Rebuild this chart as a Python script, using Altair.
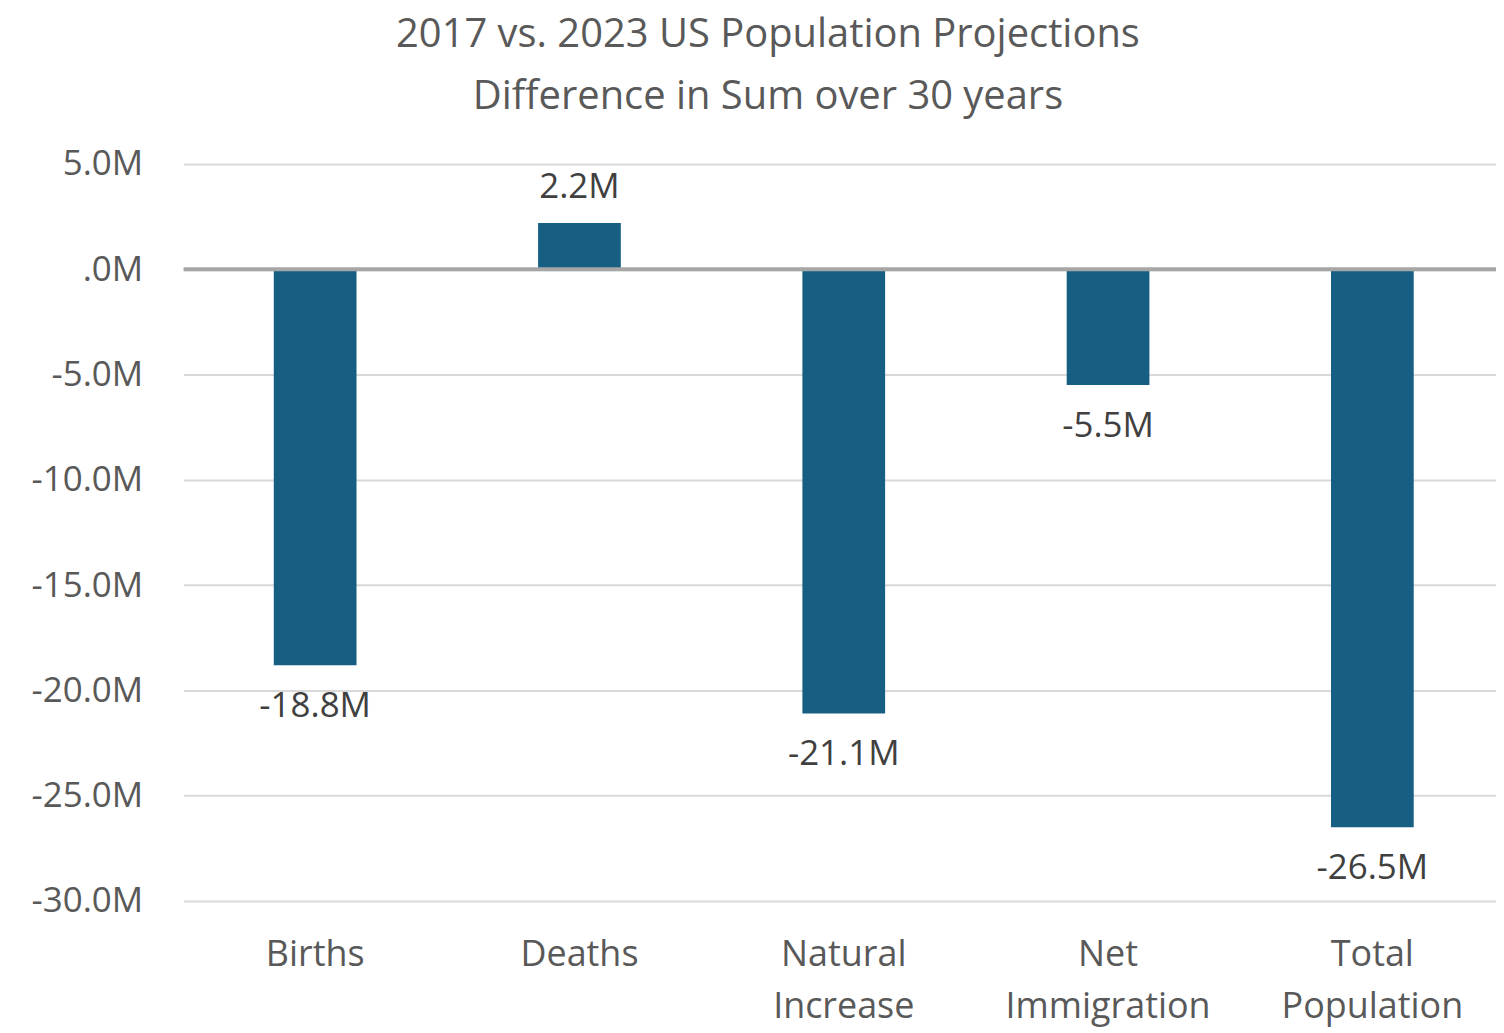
import altair as alt
import pandas as pd

categories = ["Births", "Deaths", "Natural Increase", "Net Immigration", "Total Population"]
values = [-18.8, 2.2, -21.1, -5.5, -26.5]
labels = ["-18.8M", "2.2M", "-21.1M", "-5.5M", "-26.5M"]
y_ticks = [5, 0, -5, -10, -15, -20, -25, -30]

df = pd.DataFrame({"cat": categories, "val": values, "lab": labels})

FONT = "Open Sans"
GRAY = "#595959"
BAR = "#175F82"

xscale = alt.Scale(paddingInner=0.687, paddingOuter=0.3415, range=[0, 1324])
xenc = alt.X(
    "cat:N",
    sort=categories,
    scale=xscale,
    axis=alt.Axis(
        title=None, labelAngle=0, domain=False, ticks=False,
        labelFont=FONT, labelFontSize=36, labelColor=GRAY,
        labelPadding=37, labelLineHeight=52, labelLimit=0,
        labelExpr="split(datum.label, ' ')", labelBaseline="top",
    ),
)
yscale = alt.Scale(domain=[-30, 5], nice=False, zero=False)

bars = alt.Chart(df).mark_bar(color=BAR).encode(
    x=xenc,
    y=alt.Y(
        "val:Q", scale=yscale,
        axis=alt.Axis(
            title=None, values=y_ticks, domain=False, ticks=False,
            grid=True, gridColor="#d9d9d9", gridWidth=2,
            labelFont=FONT, labelFontSize=35, labelColor=GRAY, labelPadding=41,
            labelExpr="datum.value == 0 ? '.0M' : (datum.value < 0 ? '-' : '') + format(abs(datum.value), '.1f') + 'M'",
        ),
    ),
    y2=alt.datum(0),
)

zero = alt.Chart(pd.DataFrame({"z": [0]})).mark_rule(color="#a6a6a6", strokeWidth=4).encode(
    y=alt.Y("z:Q", scale=yscale)
)

neg = alt.Chart(df).transform_filter("datum.val < 0").mark_text(
    font=FONT, fontSize=35, color="#404040", baseline="middle", dy=41
).encode(x=alt.X("cat:N", sort=categories), y=alt.Y("val:Q", scale=yscale), text="lab:N")

pos = alt.Chart(df).transform_filter("datum.val >= 0").mark_text(
    font=FONT, fontSize=35, color="#404040", baseline="middle", dy=-36
).encode(x=alt.X("cat:N", sort=categories), y=alt.Y("val:Q", scale=yscale), text="lab:N")

chart = alt.layer(bars, zero, neg, pos).properties(
    width=1316,
    height=739,
    autosize=alt.AutoSizeParams(type="none"),
    padding={"left": 176, "top": 155, "right": 0, "bottom": 127},
    title=alt.TitleParams(
        text=["2017 vs. 2023 US Population Projections", "Difference in Sum over 30 years"],
        font=FONT, fontSize=40, fontWeight="normal", color=GRAY,
        lineHeight=62, anchor="middle", dx=-72, offset=30,
    ),
).configure_view(stroke=None)

chart.save("out.html", embed_options={"renderer": "svg", "actions": False})
